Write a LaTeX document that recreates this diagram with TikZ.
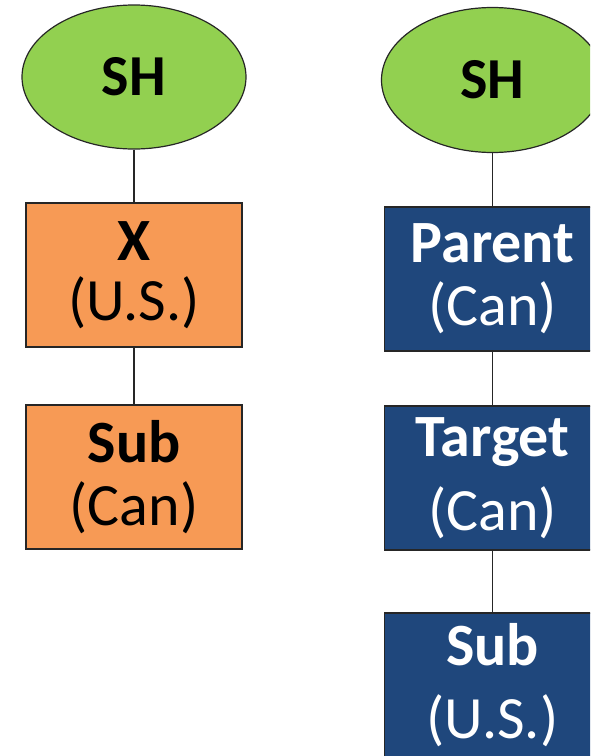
\documentclass[tikz,border=0pt]{standalone}
\usepackage{fontspec}
\setmainfont{Carlito}
\usetikzlibrary{shapes.geometric}
\definecolor{shgreen}{HTML}{92D050}
\definecolor{xorange}{HTML}{F79A55}
\definecolor{cnavy}{HTML}{1F477C}
\tikzset{
  txt/.style={font=\fontsize{60}{61}\selectfont, align=center, inner sep=0pt},
  lsp/.style={font=\fontsize{60}{#1}\selectfont},
  shnode/.style={txt, ellipse, draw=black!85, line width=1.2pt, fill=shgreen, font=\fontsize{58}{60}\selectfont\bfseries},
  obox/.style={txt, rectangle, draw=black!85, line width=1.5pt, fill=xorange, minimum width=216pt, minimum height=144pt, text=black},
  nbox/.style={txt, rectangle, draw=black!85, line width=1.5pt, fill=cnavy, minimum width=216pt, minimum height=144pt, text=white},
  link/.style={draw=black!85, line width=1.3pt}
}
\begin{document}
\begin{tikzpicture}[x=1pt,y=1pt]
\path[use as bounding box] (0,0) rectangle (590,-756);
\clip (0,0) rectangle (590,-756);
\node[shnode, minimum width=224pt, minimum height=144pt] (sh1) at (134,-77) {SH};
\node[obox, lsp=60] (x) at (134,-275) {\textbf{X}\\(U.S.)};
\node[obox, lsp=63] (sub1) at (134,-477) {\textbf{Sub}\\(Can)};
\node[shnode, minimum width=222pt, minimum height=145pt] (sh2) at (492.5,-80) {SH};
\node[nbox, lsp=63] (parent) at (492.5,-279) {\textbf{Parent}\\(Can)};
\node[nbox, lsp=74] (target) at (492.5,-478) {\textbf{Target}\\(Can)};
\node[nbox, lsp=73] (sub2) at (492.5,-685) {\textbf{Sub}\\(U.S.)};
\draw[link] (sh1.south) -- (x.north);
\draw[link] (x.south) -- (sub1.north);
\draw[link] (sh2.south) -- (parent.north);
\draw[link] (parent.south) -- (target.north);
\draw[link] (target.south) -- (sub2.north);
\end{tikzpicture}
\end{document}
